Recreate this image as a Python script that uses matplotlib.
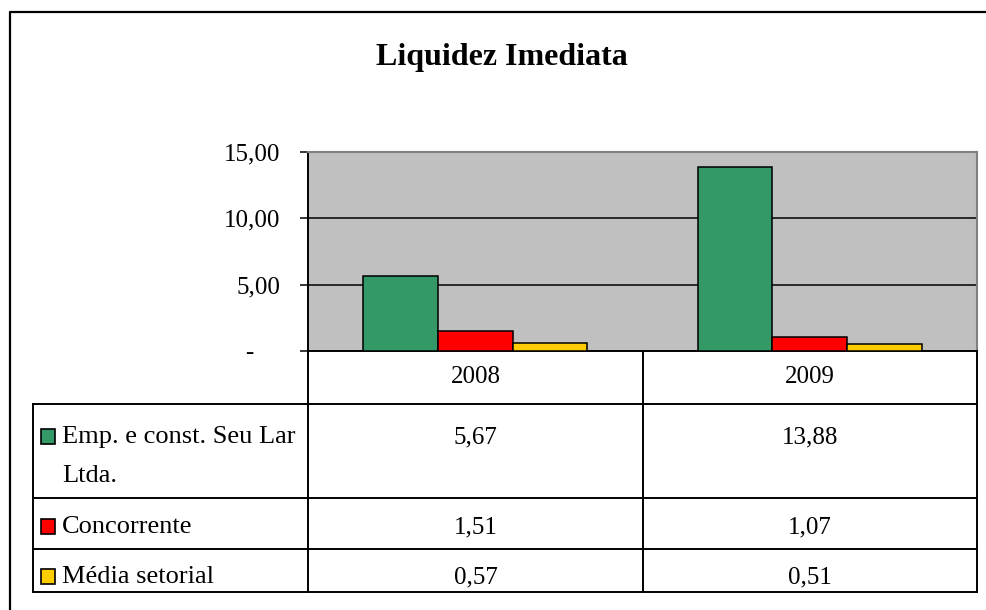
#!/usr/bin/env python
"""
Liquidez Imediata: Excel-like column chart with a data table underneath.
"""

# Third party modules.
import matplotlib
matplotlib.use("Agg")
import matplotlib.pyplot as plt
import matplotlib.transforms as mtransforms
from matplotlib.patches import Rectangle

# Globals and constants variables.
years = ["2008", "2009"]
series_names = ["Emp. e const. Seu Lar\nLtda.", "Concorrente", "Média setorial"]
empresa = [5.67, 13.88]
concorrente = [1.51, 1.07]
media = [0.57, 0.51]
series_values = [empresa, concorrente, media]
series_colors = ["#339966", "#FF0000", "#FFCC00"]
y_ticks = [0, 5, 10, 15]
y_tick_labels = ["-", "5,00", "10,00", "15,00"]

W, H = 987, 610
plt.rcParams["font.family"] = ["Liberation Serif", "DejaVu Serif"]


def fmt(value):
    return ("%.2f" % value).replace(".", ",")


def run():
    fig = plt.figure(figsize=(W / 100.0, H / 100.0), dpi=100)

    # overlay in pixel coordinates for the frame, title and data table
    frame = fig.add_axes([0, 0, 1, 1])
    frame.set_xlim(0, W)
    frame.set_ylim(H, 0)
    frame.axis("off")

    # chart border (only left and top are inside the picture)
    frame.plot([10, 10, W + 5], [H + 5, 12, 12], color="black", lw=1.6)

    frame.text(502, 57, "Liquidez Imediata", ha="center", va="center",
               fontsize=23, fontweight="bold")

    # plot area
    left, right, top, bottom = 308, 977, 152, 351
    ax = fig.add_axes([left / W, (H - bottom) / H, (right - left) / W, (bottom - top) / H])
    ax.set_facecolor("#C0C0C0")

    x = list(range(len(years)))
    width = 0.2234
    for i, (values, color) in enumerate(zip(series_values, series_colors)):
        pos = [xi + (i - 1) * width for xi in x]
        ax.bar(pos, values, width=width, color=color, edgecolor="black",
               linewidth=1.1, zorder=3)

    ax.set_xlim(-0.5, len(years) - 0.5)
    ax.set_ylim(0, 15)
    ax.set_xticks([])
    ax.set_yticks(y_ticks)
    ax.set_yticklabels(y_tick_labels, fontsize=18)
    ax.tick_params(axis="y", direction="out", length=6, width=1.1, pad=14)
    for v in [5, 10]:
        ax.axhline(v, color="black", lw=1.1, zorder=1)
    for side in ["top", "right"]:
        ax.spines[side].set_color("#808080")
        ax.spines[side].set_linewidth(1.5)
    for side in ["left", "bottom"]:
        ax.spines[side].set_color("black")
        ax.spines[side].set_linewidth(1.4)

    # move the accounting "-" a bit left, like Excel does
    dash = ax.get_yticklabels()[0]
    dash.set_transform(dash.get_transform() +
                       mtransforms.ScaledTranslation(-0.27, 0, fig.dpi_scale_trans))

    # data table
    lw = 1.4
    table_left = 33
    col_x = [left, 643, right]
    row_y = [bottom, 404, 498, 549, 592]
    for xv in col_x:
        frame.plot([xv, xv], [row_y[0], row_y[-1]], color="black", lw=lw)
    frame.plot([table_left, table_left], [row_y[1], row_y[-1]], color="black", lw=lw)
    for yv in row_y[1:]:
        frame.plot([table_left, right], [yv, yv], color="black", lw=lw)

    centers = [(col_x[j] + col_x[j + 1]) / 2.0 for j in range(len(years))]
    for cx, year in zip(centers, years):
        frame.text(cx, 377, year, ha="center", va="center", fontsize=18)

    text_y = [437, 527, 577]
    for name, values, color, ty in zip(series_names, series_values, series_colors, text_y):
        frame.add_patch(Rectangle((41, ty - 8), 14, 15, facecolor=color,
                                  edgecolor="black", lw=1.2))
        for k, line in enumerate(name.split("\n")):
            frame.text(62, ty + 39 * k, line, ha="left", va="center", fontsize=19)
        for cx, v in zip(centers, values):
            frame.text(cx, ty, fmt(v), ha="center", va="center", fontsize=18)

    fig.savefig("out.png", dpi=100)


if __name__ == '__main__':
    run()
